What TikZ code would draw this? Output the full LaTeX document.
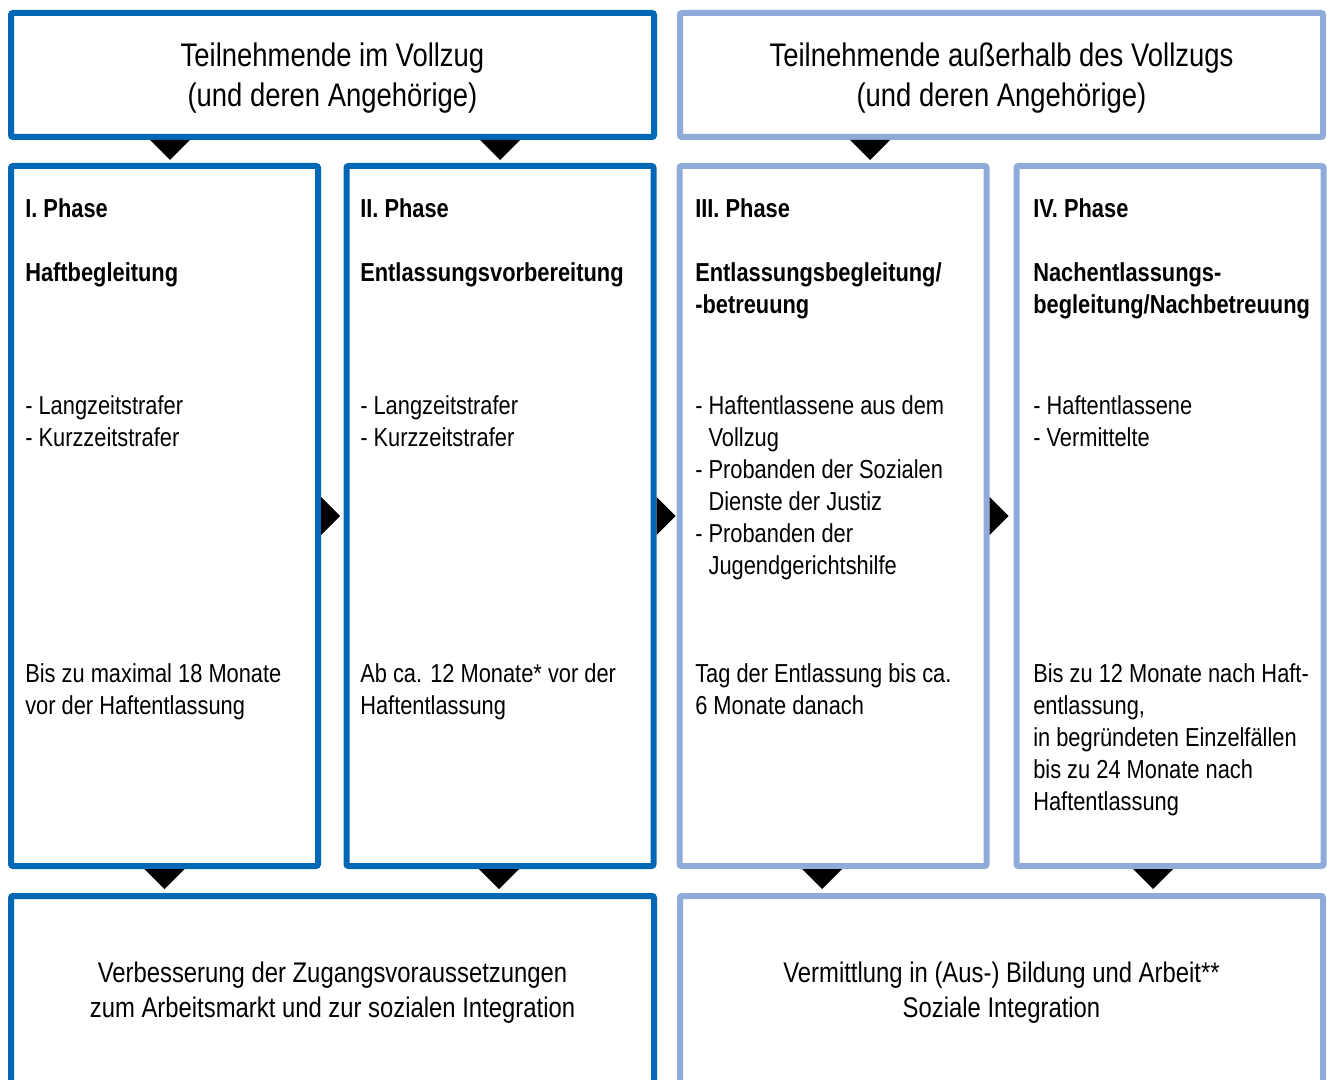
\documentclass[tikz,border=0pt]{standalone}
\usepackage{fontspec}
\setmainfont[FakeStretch=0.84]{Liberation Sans}
\usetikzlibrary{calc}
\definecolor{dblue}{RGB}{0,104,180}
\definecolor{lblue}{RGB}{142,171,218}

\begin{document}
\begin{tikzpicture}[x=0.75pt,y=0.75pt,yscale=-1,xscale=1,
  box/.style={draw, line width=4.5pt, rounded corners=1.5pt, fill=white, inner sep=0pt},
  topbox/.style={box, minimum width=482.25pt, minimum height=93pt},
  toptxt/.style={inner sep=0.75pt, align=center, font=\fontsize{24.5}{30}\selectfont},
  phasebox/.style={box, minimum width=230.25pt, minimum height=525pt},
  goalbox/.style={box, minimum width=482.25pt, minimum height=145.5pt, align=center, font=\fontsize{21.3}{26.25}\selectfont},
  txt/.style={anchor=north west, inner sep=0.75pt, align=left, font=\fontsize{19.5}{24}\selectfont},
  head/.style={txt, font=\fontsize{19.5}{24}\selectfont\bfseries},
  tri/.style={fill=black}]
\useasboundingbox (0,0) rectangle (1327,1080);
\clip (0,0) rectangle (1327,1080);
% Boxes
\node [topbox, draw=dblue] (topL) at (332.5,75) {};
\node [topbox, draw=lblue] (topR) at (1001.5,75) {};
\node [phasebox, draw=dblue] (ph1) at (164.5,516) {};
\node [phasebox, draw=dblue] (ph2) at (500,516) {};
\node [phasebox, draw=lblue] (ph3) at (833,516) {};
\node [phasebox, draw=lblue] (ph4) at (1170,516) {};
\node [goalbox, draw=dblue] (goalL) at (332.5,993) {Verbesserung der Zugangsvoraussetzungen\\zum Arbeitsmarkt und zur sozialen Integration};
\node [goalbox, draw=lblue] (goalR) at (1001.5,993) {Vermittlung in (Aus-) Bildung und Arbeit**\\Soziale Integration};
% Text Node
\node [toptxt] (topLtxt) at ($(topL)+(0,3)$) {Teilnehmende im Vollzug\\(und deren Angehörige)};
% Text Node
\node [toptxt] (topRtxt) at ($(topR)+(0,3)$) {Teilnehmende außerhalb des Vollzugs\\(und deren Angehörige)};
% Triangles
\fill [tri] ($(ph1.north |- topL.south)+(-14.5,0)$) -- ++(40,0) -- ++(-20,20) -- cycle;
\fill [tri] ($(ph2.north |- topL.south)+(-20,0)$) -- ++(40,0) -- ++(-20,20) -- cycle;
\fill [tri] ($(ph3.north |- topR.south)+(17,0)$) -- ++(40,0) -- ++(-20,20) -- cycle;
\fill [tri] ($(ph1.east)+(0,-19)$) -- ++(0,38) -- ++(19,-19) -- cycle;
\fill [tri] ($(ph2.east)+(0,-19)$) -- ++(0,38) -- ++(19,-19) -- cycle;
\fill [tri] ($(ph3.east)+(0,-19)$) -- ++(0,38) -- ++(19,-19) -- cycle;
\fill [tri] ($(ph1.south)+(-20,0)$) -- ++(40,0) -- ++(-20,20) -- cycle;
\fill [tri] ($(ph2.south)+(-21,0)$) -- ++(40,0) -- ++(-20,20) -- cycle;
\fill [tri] ($(ph3.south)+(-31,0)$) -- ++(40,0) -- ++(-20,20) -- cycle;
\fill [tri] ($(ph4.south)+(-37,0)$) -- ++(40,0) -- ++(-20,20) -- cycle;
% Phase I
\node [head] (ph1head) at (24,197) {I. Phase\\[24pt]Haftbegleitung};
\node [txt] (ph1who) at (24,394) {- Langzeitstrafer\\- Kurzzeitstrafer};
\node [txt] (ph1time) at (24,662) {Bis zu maximal 18 Monate\\vor der Haftentlassung};
% Phase II
\node [head] (ph2head) at (359,197) {II. Phase\\[24pt]Entlassungsvorbereitung};
\node [txt] (ph2who) at (359,394) {- Langzeitstrafer\\- Kurzzeitstrafer};
\node [txt] (ph2time) at (359,662) {Ab ca. 12 Monate* vor der\\Haftentlassung};
% Phase III
\node [head] (ph3head) at (694,197) {III. Phase\\[24pt]Entlassungsbegleitung/\\-betreuung};
\node [txt] (ph3who) at (694,394) {- Haftentlassene aus dem\\\hphantom{-~}Vollzug\\- Probanden der Sozialen\\\hphantom{-~}Dienste der Justiz\\- Probanden der\\\hphantom{-~}Jugendgerichtshilfe};
\node [txt] (ph3time) at (694,662) {Tag der Entlassung bis ca.\\6 Monate danach};
% Phase IV
\node [head] (ph4head) at (1032,197) {IV. Phase\\[24pt]Nachentlassungs-\\begleitung/Nachbetreuung};
\node [txt] (ph4who) at (1032,394) {- Haftentlassene\\- Vermittelte};
\node [txt] (ph4time) at (1032,662) {Bis zu 12 Monate nach Haft-\\entlassung,\\in begründeten Einzelfällen\\bis zu 24 Monate nach\\Haftentlassung};
\end{tikzpicture}
\end{document}
